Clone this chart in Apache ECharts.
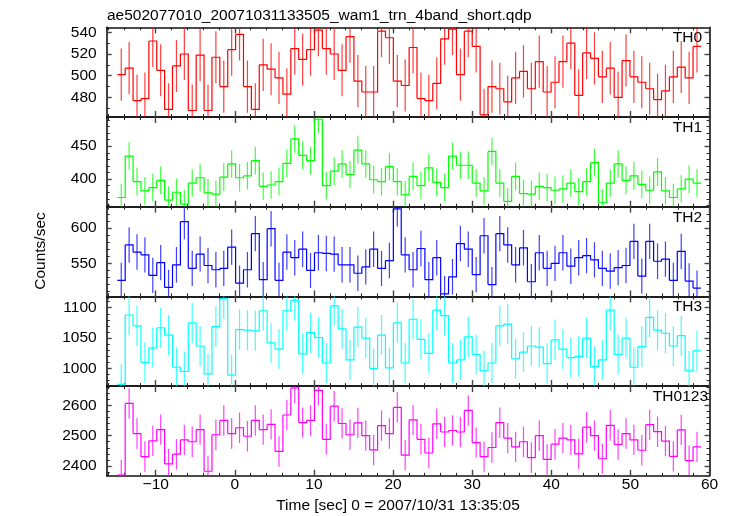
<!DOCTYPE html>
<html>
<head>
<meta charset="utf-8">
<script src="https://cdn.jsdelivr.net/npm/echarts@6/dist/echarts.min.js"></script>
<style>html,body{margin:0;padding:0;background:#fff}#c{width:730px;height:516px}</style>
</head>
<body>
<div id="c"></div>
<script>
// ---------- data ----------
const panelNames = ['TH0', 'TH1', 'TH2', 'TH3', 'TH0123'];
const th0 = [501,507,477,479,532,505,469,509,520,468,519,468,517,490,524,538,490,469,510,506,498,483,525,515,524,542,525,520,505,536,495,485,485,541,535,495,491,526,479,477,493,534,543,501,541,527,464,490,488,476,498,504,488,513,485,494,513,530,482,521,516,499,507,480,514,499,494,488,478,486,499,508,498,527];
const th1 = [372,435,396,382,387,398,368,380,362,394,402,379,377,403,423,402,405,428,389,391,396,424,461,436,428,491,390,412,423,407,444,423,399,396,419,396,376,404,390,417,395,387,435,421,421,394,382,442,394,366,404,378,377,389,387,383,385,394,381,396,425,364,394,423,398,405,392,383,411,382,372,385,400,394];
const th2 = [526,576,566,562,533,551,516,548,609,543,563,547,541,543,573,522,541,592,527,599,526,566,558,570,540,565,564,563,548,548,536,545,570,543,554,627,562,541,571,527,558,507,531,578,570,534,589,520,592,576,548,572,524,565,543,550,565,546,558,561,555,543,539,544,547,581,532,581,553,556,526,567,525,515];
const th3 = [974,1088,1070,1010,1034,1067,1055,1002,995,1075,1037,991,1069,1115,989,1064,1063,1062,1095,1042,1032,1095,1112,1024,1059,1051,1009,1103,1065,1014,1068,1050,1000,1055,1001,1075,1009,1081,1048,1025,1096,1087,1009,1014,1052,1023,996,1009,1070,1073,1016,1027,1037,1035,1008,1047,1032,1018,1020,1050,1003,1014,1096,1023,1050,1002,1036,1084,1063,1058,1037,1054,996,1029];
const th0123 = [2370,2606,2507,2431,2483,2520,2407,2439,2486,2480,2520,2383,2503,2550,2507,2526,2498,2550,2520,2537,2448,2568,2657,2543,2550,2649,2488,2597,2540,2503,2542,2500,2453,2533,2507,2593,2436,2552,2488,2443,2539,2512,2517,2512,2583,2477,2431,2461,2543,2492,2463,2480,2428,2500,2422,2472,2492,2486,2440,2528,2500,2424,2534,2471,2507,2486,2452,2536,2513,2482,2432,2519,2418,2463];
const errors = [24, 21, 25, 33, 50];
const BIN_START = -14.86;   // left edge of first time bin [sec]
const BIN_WIDTH = 0.997;    // bin width [sec]

const xLabels = [-10, 0, 10, 20, 30, 40, 50, 60];
const xMinor = [-16,-14,-12,-8,-6,-4,-2,2,4,6,8,12,14,16,18,22,24,26,28,32,34,36,38,42,44,46,48,52,54,56,58];
const yLabels = [
  [480, 500, 520, 540],
  [400, 450],
  [550, 600],
  [1000, 1050, 1100],
  [2400, 2500, 2600]
];
const yMinor = [
  [470, 490, 510, 530],
  [360,370,380,390,410,420,430,440,460,470,480,490],
  [510,520,530,540,560,570,580,590,610,620,630],
  [980,990,1010,1020,1030,1040,1060,1070,1080,1090,1110],
  [2380,2420,2440,2460,2480,2520,2540,2560,2580,2620,2640,2660]
];
const yRanges = [[462, 544.6], [358, 494.4], [503.3, 630.1], [971, 1118.6], [2368, 2663]];
const xRange = [-16.2, 60];

const series = [th0, th1, th2, th3, th0123];
const colors = ['#ff0000', '#00ff00', '#0000ff', '#00ffff', '#ff00ff'];

// ---------- layout ----------
const FONT = '"Liberation Sans", Arial, Helvetica, sans-serif';
const FS = 15.5;
const GL = 106.7, GR = 709.5, GT = 27.3, GH = 89.7;
const chart = echarts.init(document.getElementById('c'), null, {renderer: 'canvas'});

const grids = [], xAxes = [], yAxes = [], ser = [], graphics = [];
const lineStyle = {color: '#111', width: 1.6};
const majStyle = {color: '#444', width: 1.4};
const minStyle = {color: '#222', width: 1};

function xAxis(p, pos, ticks, len, showLine, style, labels) {
  return {
    type: 'value', gridIndex: p, position: pos, min: xRange[0], max: xRange[1],
    axisLine: {show: showLine, onZero: false, lineStyle: lineStyle},
    axisTick: {show: true, inside: true, length: len, customValues: ticks, lineStyle: style},
    axisLabel: labels ? {show: true, customValues: labels, margin: 1, color: '#000',
      fontFamily: FONT, fontSize: FS, formatter: v => (v < 0 ? '\u2212' + (-v) : String(v))} : {show: false},
    splitLine: {show: false}
  };
}
function yAxis(p, pos, ticks, len, showLine, style, labels) {
  return {
    type: 'value', gridIndex: p, position: pos, min: yRanges[p][0], max: yRanges[p][1],
    axisLine: {show: showLine, onZero: false, lineStyle: lineStyle},
    axisTick: {show: true, inside: true, length: len, customValues: ticks, lineStyle: style},
    axisLabel: labels ? {show: true, customValues: labels, margin: 10, color: '#000',
      fontFamily: FONT, fontSize: FS, formatter: v => String(v)} : {show: false},
    splitLine: {show: false}
  };
}

for (let p = 0; p < 5; p++) {
  const top = GT + GH * p;
  grids.push({left: GL, width: GR - GL, top: top, height: GH, containLabel: false});
  const last = p === 4;
  xAxes.push(xAxis(p, 'bottom', xLabels, 6, true, majStyle, last ? xLabels : null));
  xAxes.push(xAxis(p, 'bottom', xMinor, 3, false, minStyle, null));
  xAxes.push(xAxis(p, 'top', xLabels, 6, true, majStyle, null));
  xAxes.push(xAxis(p, 'top', xMinor, 3, false, minStyle, null));
  yAxes.push(yAxis(p, 'left', yLabels[p], 5, true, majStyle, yLabels[p]));
  yAxes.push(yAxis(p, 'left', yMinor[p], 3, false, minStyle, null));
  yAxes.push(yAxis(p, 'right', yLabels[p], 5, true, majStyle, null));
  yAxes.push(yAxis(p, 'right', yMinor[p], 3, false, minStyle, null));

  const vals = series[p];
  const err = errors[p];
  const color = colors[p];
  const data = vals.map((v, i) => [BIN_START + BIN_WIDTH * (i + 0.5), v]);
  ser.push({
    type: 'custom', xAxisIndex: 4 * p, yAxisIndex: 4 * p, clip: true, silent: true,
    data: data,
    renderItem: function (params, api) {
      const i = params.dataIndex;
      const t = api.value(0), v = api.value(1);
      const l = api.coord([t - BIN_WIDTH / 2, v]);
      const r = api.coord([t + BIN_WIDTH / 2, v]);
      const pts = [l, r];
      if (i < vals.length - 1) pts.push(api.coord([t + BIN_WIDTH / 2, vals[i + 1]]));
      const a = api.coord([t, v + err]), b = api.coord([t, v - err]);
      return {
        type: 'group',
        children: [
          {type: 'line', shape: {x1: a[0], y1: a[1], x2: b[0], y2: b[1]},
            style: {stroke: color, lineWidth: 1.2, opacity: 0.75}},
          {type: 'polyline', shape: {points: pts},
            style: {stroke: color, lineWidth: 1.2, fill: null}}
        ]
      };
    }
  });

  graphics.push({
    type: 'text', x: last ? 708 : 702, y: top + 10.8,
    style: {text: panelNames[p], font: FS + 'px ' + FONT, fill: '#000', align: 'right', verticalAlign: 'middle'}
  });
}

graphics.push({
  type: 'text', x: 107, y: 15.3,
  style: {text: 'ae502077010_20071031133505_wam1_trn_4band_short.qdp', font: FS + 'px ' + FONT,
    fill: '#000', align: 'left', verticalAlign: 'middle'}
});
graphics.push({
  type: 'text', x: 398, y: 506,
  style: {text: 'Time [sec] 0 = 2007/10/31 13:35:05', font: FS + 'px ' + FONT,
    fill: '#000', align: 'center', verticalAlign: 'middle'}
});
graphics.push({
  type: 'text', x: 41, y: 251, rotation: Math.PI / 2,
  style: {text: 'Counts/sec', font: FS + 'px ' + FONT,
    fill: '#000', align: 'center', verticalAlign: 'middle'}
});

chart.setOption({
  animation: false,
  backgroundColor: '#fff',
  grid: grids,
  xAxis: xAxes,
  yAxis: yAxes,
  series: ser,
  graphic: graphics
});
</script>
</body>
</html>
